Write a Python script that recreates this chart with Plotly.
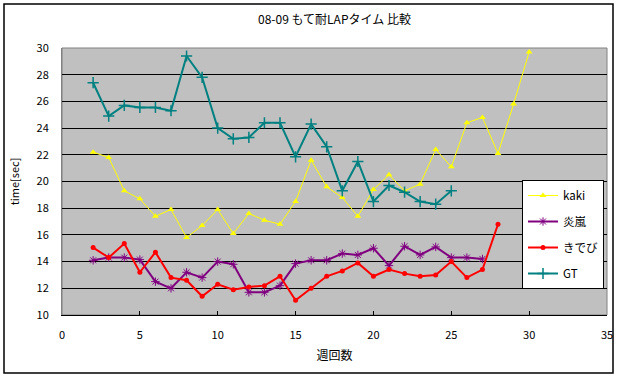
import plotly.graph_objects as go

weeks_kaki = list(range(2, 31))
kaki = [22.2, 21.8, 19.3, 18.7, 17.4, 17.9, 15.8, 16.7, 17.9, 16.1, 17.6, 17.1, 16.8, 18.5,
        21.6, 19.6, 18.8, 17.4, 19.4, 20.5, 19.3, 19.8, 22.4, 21.1, 24.4, 24.8, 22.1, 25.8, 29.7]

weeks_enran = list(range(2, 28))
enran = [14.1, 14.3, 14.3, 14.15, 12.5, 12.0, 13.2, 12.8, 14.0, 13.8, 11.7, 11.7, 12.2, 13.85,
         14.1, 14.1, 14.6, 14.5, 15.0, 13.7, 15.15, 14.5, 15.1, 14.3, 14.3, 14.2]

weeks_kidebi = list(range(2, 29))
kidebi = [15.05, 14.3, 15.35, 13.2, 14.7, 12.8, 12.6, 11.4, 12.3, 11.9, 12.1, 12.2, 12.9, 11.1,
          12.0, 12.9, 13.3, 13.9, 12.9, 13.4, 13.1, 12.9, 13.0, 14.0, 12.8, 13.4, 16.8]

weeks_gt = list(range(2, 26))
gt = [27.4, 24.9, 25.7, 25.55, 25.55, 25.3, 29.4, 27.8, 24.0, 23.2, 23.3, 24.4, 24.4, 21.85,
      24.3, 22.6, 19.3, 21.5, 18.5, 19.7, 19.2, 18.5, 18.3, 19.3]

title = "08-09 もて耐LAPタイム 比較"
x_title = "週回数"
y_title = "time[sec]"

FONT = "MS PGothic, Noto Sans CJK JP, sans-serif"

fig = go.Figure()
fig.add_trace(go.Scatter(x=weeks_kaki, y=kaki, name="kaki", mode="lines+markers", legendgroup="a",
                         line=dict(color="#FFFF00", width=1),
                         marker=dict(symbol="triangle-up", size=6, color="#FFFF00")))
fig.add_trace(go.Scatter(x=weeks_enran, y=enran, name="炎嵐", mode="lines+markers", legendgroup="b",
                         line=dict(color="#800080", width=2),
                         marker=dict(symbol="asterisk-open", size=7, color="#800080",
                                     line=dict(color="#800080", width=1))))
fig.add_trace(go.Scatter(x=weeks_kidebi, y=kidebi, name="きでび", mode="lines+markers", legendgroup="c",
                         line=dict(color="#FF0000", width=2),
                         marker=dict(symbol="circle", size=5, color="#FF0000")))
fig.add_trace(go.Scatter(x=weeks_gt, y=gt, name="GT", mode="lines+markers", legendgroup="d",
                         line=dict(color="#008080", width=2),
                         marker=dict(symbol="cross-thin-open", size=8, color="#008080",
                                     line=dict(color="#008080", width=1.5))))

L, R, T, B = 62, 11, 48, 64
W, H = 618, 379
pw, ph = W - L - R, H - T - B

fig.update_layout(
    width=W, height=H,
    margin=dict(l=L, r=R, t=T, b=B, autoexpand=False),
    paper_bgcolor="white",
    plot_bgcolor="#C0C0C0",
    font=dict(family=FONT, size=11, color="black"),
    title=dict(text=title, x=0.5, xref="paper", y=1 - 20 / H, yanchor="middle",
               font=dict(family=FONT, size=12, color="black")),
    showlegend=True,
    legend=dict(x=(522 - L) / pw, y=(315 - 180) / ph, xanchor="left", yanchor="top",
                bgcolor="white", bordercolor="black", borderwidth=1,
                font=dict(family=FONT, size=11.5), tracegroupgap=7, itemwidth=30),
    xaxis=dict(range=[0, 35], dtick=5, tick0=0, showgrid=False, zeroline=False, automargin=False,
               showline=True, linecolor="black", linewidth=1,
               ticks="inside", ticklen=4, tickcolor="black", ticklabelstandoff=10,
               title=dict(text=x_title, standoff=10, font=dict(size=12))),
    yaxis=dict(range=[10, 30], dtick=2, tick0=10, showgrid=True, gridcolor="black", automargin=False,
               gridwidth=1, zeroline=False, showline=True, linecolor="#808080",
               ticks="", ticklabelstandoff=10,
               title=dict(text=y_title, standoff=14, font=dict(size=11))),
    shapes=[
        dict(type="rect", xref="paper", yref="paper", x0=0, x1=1, y0=0, y1=1,
             line=dict(color="#808080", width=1), layer="below"),
        dict(type="rect", xref="paper", yref="paper",
             x0=(4 - L) / pw, x1=(613 - L) / pw,
             y0=(315 - 373) / ph, y1=(315 - 4) / ph,
             line=dict(color="black", width=1.5), layer="above"),
    ],
)

fig.write_html("out.html", config={"displayModeBar": False},
               post_script="document.body.style.margin='0px';")
